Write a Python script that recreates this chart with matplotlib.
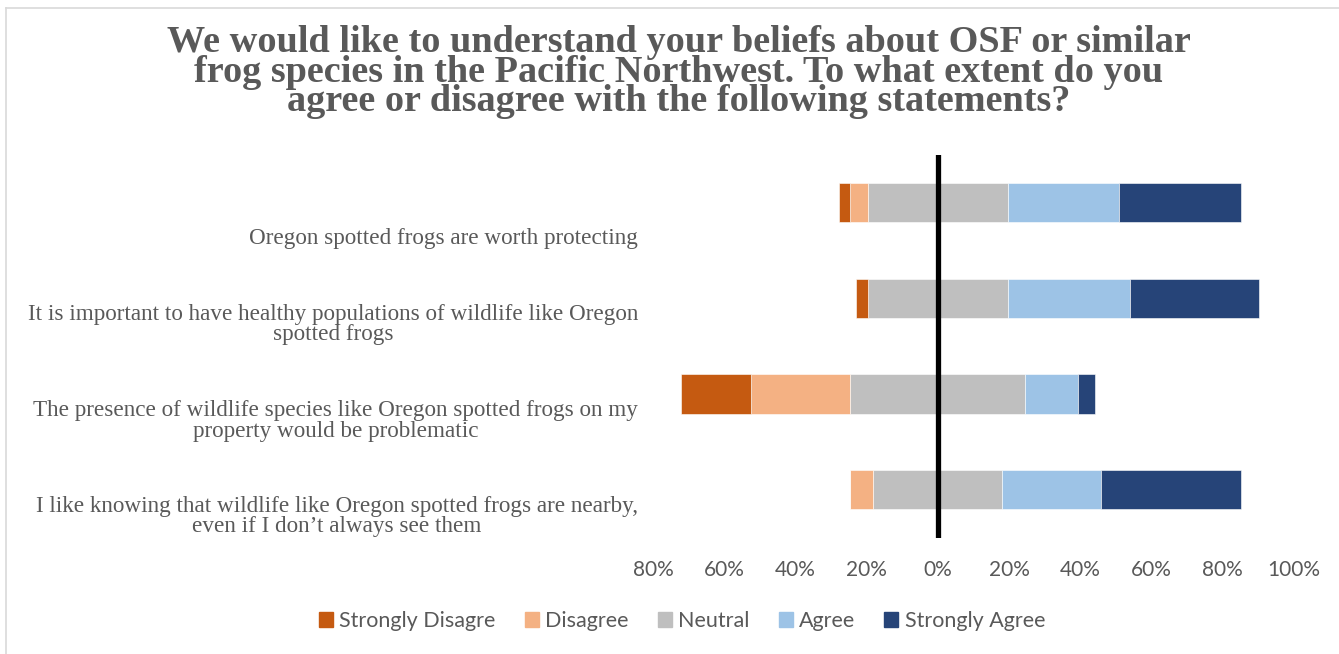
import numpy as np
import matplotlib
matplotlib.use("Agg")
import matplotlib.pyplot as plt
from matplotlib.transforms import blended_transform_factory, ScaledTranslation

# survey statements, top to bottom
statements = [
    "Oregon spotted frogs are worth protecting",
    "It is important to have healthy populations of wildlife like Oregon\nspotted frogs",
    "The presence of wildlife species like Oregon spotted frogs on my\nproperty would be problematic",
    "I like knowing that wildlife like Oregon spotted frogs are nearby,\neven if I don\u2019t always see them",
]

# response shares in percent
strongly_disagree = [3.2, 3.3, 19.7, 0.0]
disagree = [4.9, 0.0, 27.8, 6.5]
neutral = [39.4, 39.4, 49.2, 36.2]
agree = [31.1, 34.3, 14.7, 27.8]
strongly_agree = [34.4, 36.1, 4.9, 39.3]

responses = ["Strongly Disagre", "Disagree", "Neutral", "Agree", "Strongly Agree"]
colors = ["#C55A11", "#F4B183", "#BFBFBF", "#9DC3E6", "#264478"]
ticks = [-80, -60, -40, -20, 0, 20, 40, 60, 80, 100]

grey = "#595959"
W, H = 1339, 654
fig = plt.figure(figsize=(W / 100, H / 100), dpi=100)
ax = fig.add_axes([653 / W, 1 - 537.5 / H, (1294 - 653) / W, (537.5 - 155) / H])

y = np.arange(len(statements))
sd = np.array(strongly_disagree)
d = np.array(disagree)
n = np.array(neutral)
a = np.array(agree)
sa = np.array(strongly_agree)

h = 0.41
kw = dict(height=h, edgecolor="white", linewidth=0.4)
# negative side: half of neutral, then disagree, then strongly disagree
ax.barh(y, -n / 2, color=colors[2], **kw)
ax.barh(y, -d, left=-n / 2, color=colors[1], **kw)
ax.barh(y, -sd, left=-n / 2 - d, color=colors[0], **kw)
# positive side
ax.barh(y, n / 2, color=colors[2], **kw)
ax.barh(y, a, left=n / 2, color=colors[3], **kw)
ax.barh(y, sa, left=n / 2 + a, color=colors[4], **kw)

ax.axvline(0, color="black", linewidth=3.8, zorder=5)

ax.set_xlim(-80, 100)
ax.set_ylim(len(statements) - 0.5, -0.5)
ax.set_xticks(ticks)
ax.set_xticklabels([f"{abs(t)}%" for t in ticks], fontfamily="Lato",
                   fontsize=15, color=grey)
ax.tick_params(axis="x", length=0, pad=16)
ax.set_yticks([])
for s in ax.spines.values():
    s.set_visible(False)

# statement labels sit a little below each bar
shift_px = [36, 26, 27, 27]
base = blended_transform_factory(ax.transAxes, ax.transData)
for i, txt in enumerate(statements):
    tr = base + ScaledTranslation(0, -shift_px[i] / 100, fig.dpi_scale_trans)
    ax.text((638 - 653) / (1294 - 653), i, txt, transform=tr, ha="right",
            va="center", multialignment="center", fontfamily="Liberation Serif",
            fontsize=16.7, color=grey, linespacing=0.95)

fig.text(679 / W, 1 - 72 / H,
         "We would like to understand your beliefs about OSF or similar\n"
         "frog species in the Pacific Northwest. To what extent do you\n"
         "agree or disagree with the following statements?",
         ha="center", va="center", fontfamily="Liberation Serif",
         fontweight="bold", fontsize=27.5, color=grey, linespacing=0.8)

handles = [plt.Rectangle((0, 0), 1, 1, color=c) for c in colors]
fig.legend(handles, responses, loc="center", bbox_to_anchor=(682 / W, 1 - 621 / H),
           ncol=5, frameon=False, handlelength=0.65, handleheight=0.65,
           handletextpad=0.3, columnspacing=1.35,
           prop={"family": "Lato", "size": 15.5}, labelcolor=grey)

# light chart-area border
fig.add_artist(plt.Line2D([6 / W, 6 / W], [0, 1 - 8 / H], transform=fig.transFigure,
                          color="#D9D9D9", linewidth=1.2))
fig.add_artist(plt.Line2D([6 / W, 1], [1 - 8 / H, 1 - 8 / H], transform=fig.transFigure,
                          color="#D9D9D9", linewidth=1.2))

fig.savefig("out.png", dpi=100)
